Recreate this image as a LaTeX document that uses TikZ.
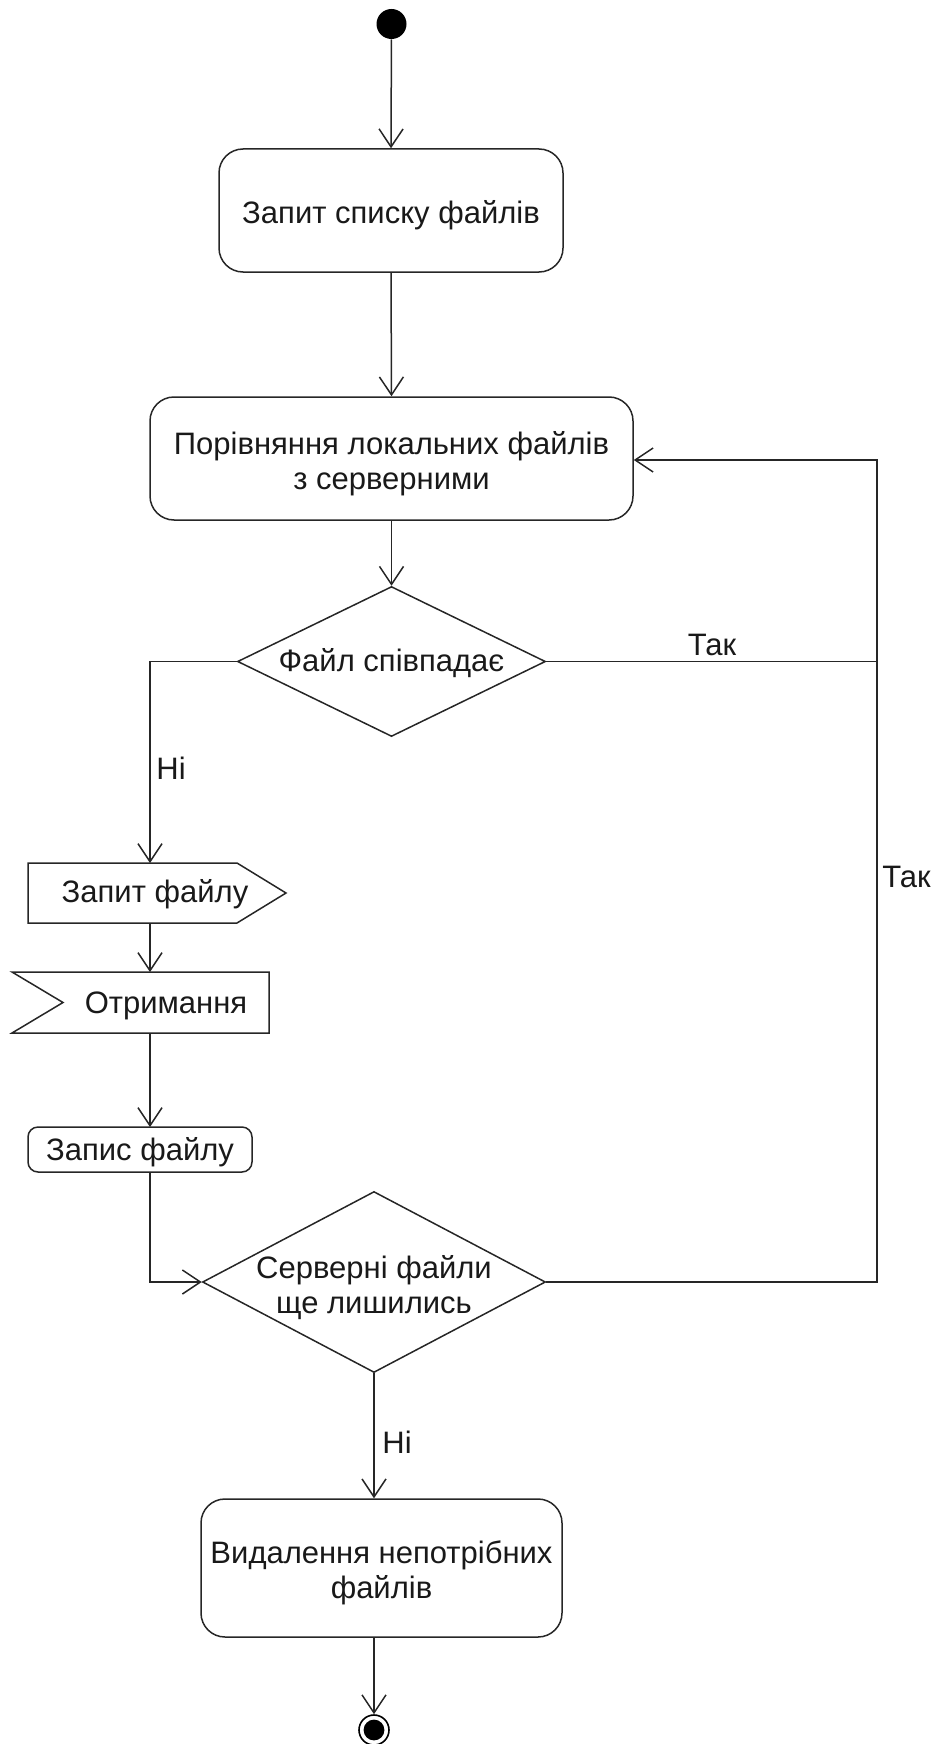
\documentclass[tikz,border=0pt]{standalone}
\usepackage{fontspec}
\setmainfont{Liberation Sans}
\usetikzlibrary{shapes.geometric,arrows.meta}
\begin{document}
\begin{tikzpicture}[x=0.5pt,y=-0.5pt,
  every node/.style={font=\fontsize{15.5}{17.5}\selectfont,text=black!90},
  ln/.style={line width=0.75pt,draw=black!85},
  arr/.style={ln,-{Straight Barb[length=9pt,width=12pt,line width=0.75pt]}},
  act/.style={ln,rectangle,rounded corners=12pt,inner sep=0pt},
  dec/.style={ln,diamond,aspect=2,inner sep=0pt},
  tx/.style={align=center,inner sep=0pt,yshift=-2.5pt},
  lbl/.style={inner sep=0pt,anchor=west}]
\useasboundingbox (0,0) rectangle (939,1744);
% nodes
\node[circle,fill=black,minimum size=15pt,inner sep=0pt] (start) at (391.5,24) {};
\node[act,minimum width=172pt,minimum height=61.5pt] (b1) at (391,210.5) {};
\node[tx] (b1t) at (b1.center) {Запит списку файлів};
\node[act,minimum width=241.5pt,minimum height=61.5pt] (b2) at (391.5,458.5) {};
\node[tx] (b2t) at (b2.center) {Порівняння локальних файлів\\з серверними};
\node[dec,minimum width=154pt,minimum height=75pt] (d1) at (391.5,661.5) {};
\node[tx,yshift=1.5pt] (d1t) at (d1.center) {Файл співпадає};
\draw[ln] (28,863) -- (237,863) -- (286,893) -- (237,923) -- (28,923) -- cycle;
\node[inner sep=0pt] (s1) at (155,894) {Запит файлу};
\draw[ln] (12,972) -- (269,972) -- (269,1033) -- (12,1033) -- (63,1002.5) -- cycle;
\node[inner sep=0pt] (r1) at (166,1006) {Отримання};
\node[act,rounded corners=5pt,minimum width=112pt,minimum height=22.5pt] (b4) at (140,1149.5) {};
\node[tx,yshift=1pt] (b4t) at (b4.center) {Запис файлу};
\node[dec,minimum width=171.5pt,minimum height=90.5pt] (d2) at (374,1282) {};
\node[tx,yshift=-0.5pt] (d2t) at (d2.center) {Серверні файли\\ще лишились};
\node[act,minimum width=180.5pt,minimum height=69pt] (b3) at (381.5,1568) {};
\node[tx] (b3t) at (b3.center) {Видалення непотрібних\\файлів};
\node[circle,draw=black,line width=0.8pt,minimum size=15pt,inner sep=0pt] (end) at (374,1730) {};
\fill[black] (end.center) circle (5.2pt);
% connection points
\coordinate (s1top) at (150,863);
\coordinate (s1bot) at (150,923);
\coordinate (r1top) at (150,972);
\coordinate (r1bot) at (150,1033);
\coordinate (b4top) at (150,1127);
\coordinate (b4bot) at (150,1172);
\coordinate (rx) at (877,661.5);
\coordinate (b2in) at (877,460);
% connectors
\draw[arr] (start) -- (b1.north);
\draw[arr] (b1.south) -- (b2.north);
\draw[arr] (b2.south) -- (d1.north);
\draw[arr] (d1.west) -| (s1top);
\draw[ln] (d1.east) -- (rx);
\draw[arr] (rx) -- (b2in) -- (b2.east |- b2in);
\draw[arr] (s1bot) -- (r1top);
\draw[arr] (r1bot) -- (b4top);
\draw[arr] (b4bot) |- (d2.west);
\draw[ln] (d2.east) -| (rx);
\draw[arr] (d2.south) -- (d2.south |- b3.north);
\draw[arr] (end.north |- b3.south) -- (end.north);
% labels
\node[lbl] (l1) at (156,768) {Ні};
\node[inner sep=0pt] (l2) at (712,645) {Так};
\node[lbl] (l3) at (882,877) {Так};
\node[lbl] (l4) at (382,1442) {Ні};
\end{tikzpicture}
\end{document}
